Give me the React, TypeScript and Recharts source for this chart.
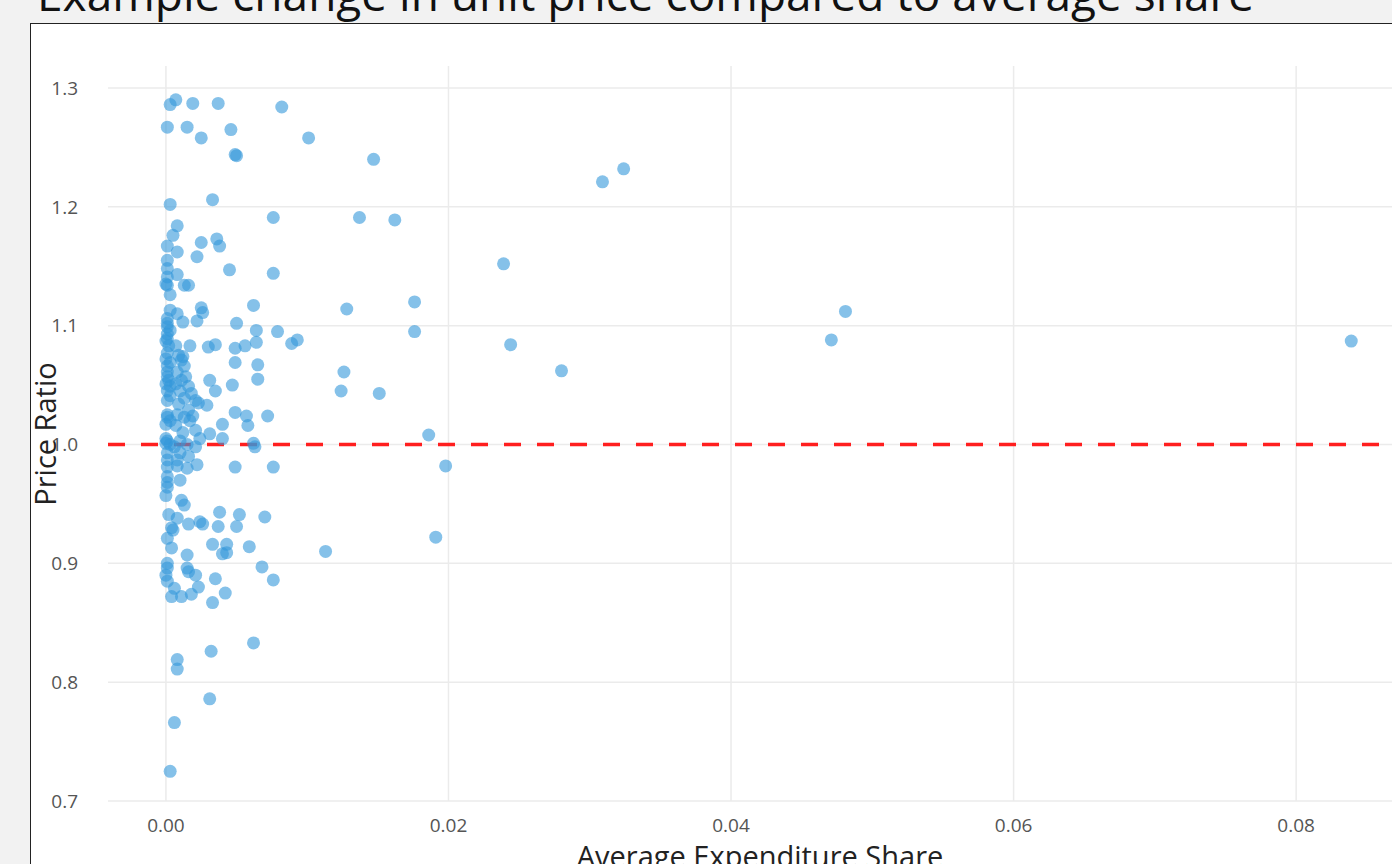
import { ScatterChart, Scatter, XAxis, YAxis, CartesianGrid, ReferenceLine } from "recharts";

// average expenditure share per item
const shares = [
  0.0003, 0.0007, 0.0019, 0.0037, 0.0082, 0.0001, 0.0015, 0.0025, 0.0046, 0.0101,
  0.0050, 0.0049, 0.0147, 0.0003, 0.0033, 0.0076, 0.0137, 0.0162, 0.0008, 0.0005,
  0.0001, 0.0025, 0.0036, 0.0038, 0.0008, 0.0022, 0.0001, 0.0001, 0.0045, 0.0076,
  0.0008, 0.0001, 0.0001, 0.0000, 0.0016, 0.0013, 0.0003, 0.0239, 0.0309, 0.0324,
  0.0062, 0.0025, 0.0026, 0.0003, 0.0008, 0.0001, 0.0001, 0.0012, 0.0022, 0.0050,
  0.0064, 0.0079, 0.0176, 0.0176, 0.0128, 0.0093, 0.0089, 0.0017, 0.0030, 0.0035,
  0.0049, 0.0056, 0.0064, 0.0244, 0.0471, 0.0481, 0.0839, 0.0012, 0.0049, 0.0065,
  0.0280, 0.0126, 0.0065, 0.0031, 0.0047, 0.0035, 0.0124, 0.0151, 0.0023, 0.0029,
  0.0019, 0.0049, 0.0057, 0.0072, 0.0058, 0.0040, 0.0031, 0.0012, 0.0024, 0.0040,
  0.0062, 0.0186, 0.0198, 0.0191, 0.0113,
  // dense column near zero
  0.0001, 0.0003, 0.0001, 0.0001, 0.0000, 0.0002, 0.0001, 0.0000, 0.0003, 0.0001,
  0.0001, 0.0001, 0.0002, 0.0000, 0.0003, 0.0001, 0.0003, 0.0001, 0.0001, 0.0001,
  0.0003, 0.0000, 0.0000, 0.0001, 0.0000, 0.0003, 0.0006, 0.0001, 0.0001, 0.0001,
  0.0001, 0.0001, 0.0001, 0.0000, 0.0002, 0.0004, 0.0001, 0.0004, 0.0001, 0.0001,
  0.0000, 0.0001, 0.0004,
  // second column
  0.0007, 0.0009, 0.0011, 0.0013, 0.0008, 0.0014, 0.0011, 0.0007, 0.0016, 0.0010,
  0.0018, 0.0013, 0.0021, 0.0009, 0.0016, 0.0008, 0.0013, 0.0017, 0.0007, 0.0021,
  0.0010, 0.0015, 0.0021, 0.0010, 0.0016, 0.0008,
  // below 1.0
  0.0063, 0.0022, 0.0049, 0.0076, 0.0008, 0.0015, 0.0010, 0.0011, 0.0013, 0.0038,
  0.0052, 0.0070, 0.0008, 0.0016, 0.0024, 0.0026, 0.0037, 0.0050, 0.0005, 0.0033,
  0.0043, 0.0043, 0.0059, 0.0040, 0.0015, 0.0068, 0.0015, 0.0016, 0.0021, 0.0035,
  0.0076, 0.0023, 0.0042, 0.0006, 0.0011, 0.0018, 0.0033, 0.0062, 0.0032, 0.0008,
  0.0008, 0.0006, 0.0031, 0.0003,
];

// unit price ratio per item
const ratios = [
  1.286, 1.290, 1.287, 1.287, 1.284, 1.267, 1.267, 1.258, 1.265, 1.258,
  1.243, 1.244, 1.240, 1.202, 1.206, 1.191, 1.191, 1.189, 1.184, 1.176,
  1.167, 1.170, 1.173, 1.167, 1.162, 1.158, 1.155, 1.148, 1.147, 1.144,
  1.143, 1.141, 1.134, 1.135, 1.134, 1.134, 1.126, 1.152, 1.221, 1.232,
  1.117, 1.115, 1.111, 1.113, 1.110, 1.106, 1.102, 1.103, 1.104, 1.102,
  1.096, 1.095, 1.120, 1.095, 1.114, 1.088, 1.085, 1.083, 1.082, 1.084,
  1.081, 1.083, 1.086, 1.084, 1.088, 1.112, 1.087, 1.074, 1.069, 1.067,
  1.062, 1.061, 1.055, 1.054, 1.050, 1.045, 1.045, 1.043, 1.035, 1.033,
  1.024, 1.027, 1.024, 1.024, 1.016, 1.017, 1.009, 1.010, 1.005, 1.005,
  1.001, 1.008, 0.982, 0.922, 0.910,
  1.099, 1.096, 1.093, 1.089, 1.087, 1.083, 1.077, 1.072, 1.069, 1.066,
  1.061, 1.057, 1.054, 1.051, 1.049, 1.045, 1.041, 1.037, 1.025, 1.023,
  1.020, 1.017, 1.005, 1.003, 1.001, 1.000, 0.998, 0.993, 0.987, 0.981,
  0.973, 0.968, 0.964, 0.957, 0.941, 0.930, 0.921, 0.913, 0.900, 0.896,
  0.890, 0.885, 0.872,
  1.083, 1.075, 1.071, 1.066, 1.061, 1.057, 1.054, 1.051, 1.049, 1.045,
  1.043, 1.039, 1.037, 1.034, 1.029, 1.025, 1.023, 1.020, 1.016, 1.012,
  1.003, 1.000, 0.998, 0.993, 0.990, 0.987,
  0.998, 0.983, 0.981, 0.981, 0.982, 0.980, 0.970, 0.953, 0.949, 0.943,
  0.941, 0.939, 0.938, 0.933, 0.935, 0.933, 0.931, 0.931, 0.928, 0.916,
  0.916, 0.909, 0.914, 0.908, 0.907, 0.897, 0.896, 0.893, 0.890, 0.887,
  0.886, 0.880, 0.875, 0.879, 0.872, 0.874, 0.867, 0.833, 0.826, 0.819,
  0.811, 0.766, 0.786, 0.725,
];

const xTicks = [0, 0.02, 0.04, 0.06, 0.08];
const yTicks = [0.7, 0.8, 0.9, 1.0, 1.1, 1.2, 1.3];
const xDomain = [-0.0041, 0.0882];
const yDomain = [0.7, 1.3185];

const points = shares.map((s, i) => ({ share: s, ratio: ratios[i] }));

const font = '"Open Sans", Arial, sans-serif';

const Dot = (props: any) => (
  <circle cx={props.cx} cy={props.cy} r={6.5} fill="#3498db" fillOpacity={0.6} />
);

// grid only at the tick values, not at the plot edges
const vGrid = ({ xAxis, offset }: any) =>
  xTicks.map((t) =>
    xAxis && typeof xAxis.scale === "function"
      ? xAxis.scale(t)
      : offset.left + ((t - xDomain[0]) / (xDomain[1] - xDomain[0])) * offset.width
  );
const hGrid = ({ yAxis, offset }: any) =>
  yTicks.map((t) =>
    yAxis && typeof yAxis.scale === "function"
      ? yAxis.scale(t)
      : offset.top + ((yDomain[1] - t) / (yDomain[1] - yDomain[0])) * offset.height
  );

export default function App() {
  return (
    <div
      style={{
        position: "fixed",
        left: 0,
        top: 0,
        width: 1392,
        height: 864,
        overflow: "hidden",
        background: "#f2f2f2",
        fontFamily: font,
      }}
    >
      <div
        style={{
          position: "absolute",
          left: 37,
          top: -38,
          fontSize: 46,
          color: "#111",
          whiteSpace: "nowrap",
          lineHeight: "63px",
        }}
      >
        Example change in unit price compared to average share
      </div>
      <div
        style={{
          position: "absolute",
          left: 30,
          top: 23,
          width: 1500,
          height: 900,
          background: "#fff",
          border: "1.5px solid #222",
        }}
      />
      <div style={{ position: "absolute", left: 0, top: 0 }}>
        <ScatterChart width={1450} height={900} margin={{ top: 66, right: 38, left: 48, bottom: 69 }}>
          <CartesianGrid
            stroke="#ebebeb"
            strokeWidth={1.5}
            verticalCoordinatesGenerator={vGrid}
            horizontalCoordinatesGenerator={hGrid}
          />
          <XAxis
            type="number"
            dataKey="share"
            domain={xDomain}
            ticks={xTicks}
            allowDataOverflow
            axisLine={false}
            tickLine={false}
            tickSize={0}
            tickMargin={18}
            height={30}
            tickFormatter={(v: number) => v.toFixed(2)}
            tick={{ fill: "#555", fontSize: 19, fontFamily: font }}
          />
          <YAxis
            type="number"
            dataKey="ratio"
            domain={yDomain}
            ticks={yTicks}
            allowDataOverflow
            axisLine={false}
            tickLine={false}
            tickSize={0}
            tickMargin={30}
            width={60}
            tickFormatter={(v: number) => v.toFixed(1)}
            tick={{ fill: "#555", fontSize: 19, fontFamily: font }}
          />
          <Scatter data={points} shape={Dot} isAnimationActive={false} />
          <ReferenceLine y={1} stroke="#ff1f1f" strokeWidth={3.5} strokeDasharray="17 16" />
        </ScatterChart>
      </div>
      <div
        style={{
          position: "absolute",
          left: 45,
          top: 434,
          transform: "translate(-50%, -50%) rotate(-90deg)",
          fontSize: 29,
          color: "#222",
          whiteSpace: "nowrap",
          lineHeight: "40px",
        }}
      >
        Price Ratio
      </div>
      <div
        style={{
          position: "absolute",
          left: 760,
          top: 836,
          transform: "translateX(-50%)",
          fontSize: 29,
          color: "#222",
          whiteSpace: "nowrap",
          lineHeight: "40px",
        }}
      >
        Average Expenditure Share
      </div>
    </div>
  );
}
